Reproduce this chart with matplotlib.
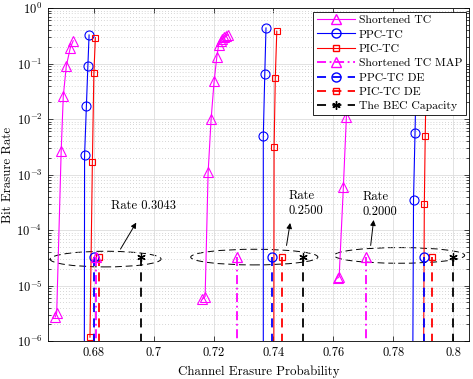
import numpy as np
import matplotlib
matplotlib.use("Agg")
import matplotlib.pyplot as plt
from matplotlib.patches import Ellipse
from matplotlib.lines import Line2D
import matplotlib.transforms as mtransforms

plt.rcParams['font.family'] = 'serif'
plt.rcParams['font.serif'] = ['cmr10']
plt.rcParams['mathtext.fontset'] = 'cm'
plt.rcParams['axes.formatter.use_mathtext'] = True
plt.rcParams['font.size'] = 9

# simulated curves (x = channel erasure prob, y = bit erasure rate)
stc1_x = [0.6672, 0.6677, 0.6692, 0.6699, 0.6709, 0.6722, 0.6732]
stc1_y = [2.7e-6, 3.2e-6, 2.7e-3, 0.026, 0.09, 0.188, 0.257]
stc2_x = [0.7163, 0.7172, 0.7182, 0.7192, 0.7202, 0.7211, 0.7217, 0.7224, 0.7229, 0.7235, 0.7242, 0.7249]
stc2_y = [5.7e-6, 6.3e-6, 1.1e-3, 0.01, 0.048, 0.131, 0.215, 0.251, 0.276, 0.297, 0.313, 0.33]
stc3_x = [0.7614, 0.7619, 0.7633, 0.7643, 0.7652, 0.7660]
stc3_y = [1.36e-5, 1.44e-5, 5.9e-4, 0.0107, 0.08, 0.25]

ppc1_x = [0.6769, 0.6770, 0.6776, 0.6781, 0.6785]
ppc1_y = [1e-7, 2.2e-3, 0.017, 0.091, 0.326]
ppc2_x = [0.7366, 0.7366, 0.7371, 0.7375]
ppc2_y = [1e-7, 4.9e-3, 0.066, 0.436]
ppc3_x = [0.7864, 0.7867, 0.7872, 0.7876, 0.7880]
ppc3_y = [1e-7, 3.5e-4, 5.7e-3, 0.06, 0.4]

pic1_x = [0.6788, 0.6796, 0.6801, 0.6806]
pic1_y = [1.17e-6, 1.66e-3, 0.067, 0.292]
pic2_x = [0.7401, 0.7402, 0.7406, 0.7411]
pic2_y = [1e-7, 3.1e-3, 0.055, 0.38]
pic3_x = [0.7900, 0.7903, 0.7906, 0.7910]
pic3_y = [1e-7, 2.9e-4, 5e-3, 0.1]

# thresholds
map_x = [0.6807, 0.7277, 0.7707]
ppc_de_x = [0.6802, 0.7395, 0.7901]
pic_de_x = [0.6818, 0.7427, 0.7928]
rates = [0.3043, 0.2500, 0.2000]
cap_x = [1 - r for r in rates]
thr_y = 3.2e-5

MAG = '#FF00FF'
BLU = '#0000FF'
RED = '#FF0000'

fig = plt.figure(figsize=(4.73, 3.79), dpi=100)
ax = fig.add_axes([48 / 473, 1 - 341 / 379, 421 / 473, 333 / 379])

for xs, ys in [(stc1_x, stc1_y), (stc2_x, stc2_y), (stc3_x, stc3_y)]:
    ax.plot(xs, ys, '-', color=MAG, lw=0.8, marker='^', ms=7, mfc='none', mew=0.8)
for xs, ys in [(ppc1_x, ppc1_y), (ppc2_x, ppc2_y), (ppc3_x, ppc3_y)]:
    ax.plot(xs, ys, '-', color=BLU, lw=0.8, marker='o', ms=6.5, mfc='none', mew=0.8)
for xs, ys in [(pic1_x, pic1_y), (pic2_x, pic2_y), (pic3_x, pic3_y)]:
    ax.plot(xs, ys, '-', color=RED, lw=0.8, marker='s', ms=5, mfc='none', mew=0.8)

dash = (0, (5, 3.5))
dashdot = (0, (5, 2, 1, 2))
for xv in cap_x:
    ax.plot([xv, xv], [thr_y, 1e-7], color='k', ls=dash, lw=1.3, marker=(6, 2, 0), ms=6, mew=0.9, markevery=[0])
for xv in pic_de_x:
    ax.plot([xv, xv], [thr_y, 1e-7], color=RED, ls=dash, lw=1.3, marker='s', ms=5, mfc='none', mew=0.9, markevery=[0])
for xv in ppc_de_x:
    ax.plot([xv, xv], [thr_y, 1e-7], color=BLU, ls=dash, lw=1.3, marker='o', ms=6.5, mfc='none', mew=0.9, markevery=[0])
for xv in map_x:
    ax.plot([xv, xv], [thr_y, 1e-7], color=MAG, ls=dashdot, lw=1.3, marker='^', ms=7, mfc='none', mew=0.9, markevery=[0])

ax.set_yscale('log')
ax.set_xlim(0.6648, 0.8052)
ax.set_ylim(1e-6, 1)
ax.set_xticks([0.68, 0.70, 0.72, 0.74, 0.76, 0.78, 0.80])
ax.set_xticklabels(['0.68', '0.7', '0.72', '0.74', '0.76', '0.78', '0.8'])
ax.set_xlabel('Channel Erasure Probability', labelpad=5, fontsize=9.25)
ax.set_ylabel('Bit Erasure Rate', labelpad=2, fontsize=9.25)
ax.tick_params(which='both', direction='in', top=True, right=True, width=0.5)
ax.tick_params(which='major', length=3.5, pad=4, labelsize=9)
ax.tick_params(which='minor', length=2)
ax.grid(True, which='major', color='#dddddd', lw=0.6)
ax.yaxis.grid(True, which='minor', color='#c8c8c8', ls=(0, (1, 2.5)), lw=0.6)
for s in ax.spines.values():
    s.set_linewidth(0.6)

# ellipses around threshold groups
trans = mtransforms.blended_transform_factory(ax.transData, ax.transAxes)
ell_cx = [0.6840, 0.7336, 0.7820]
ell_w = [0.0370, 0.0424, 0.0435]
ell_cy = [0.246, 0.252, 0.257]
for cx, w, cy in zip(ell_cx, ell_w, ell_cy):
    ax.add_patch(Ellipse((cx, cy), w, 0.047, transform=trans, fill=False,
                         ec='k', lw=0.7, ls=(0, (7, 4)), angle=-1))

# rate labels and arrows
ax.text(0.6858, 2.75e-4, 'Rate 0.3043', ha='left', va='center', fontsize=9)
ax.text(0.7449, 3.0e-4, 'Rate\n0.2500', ha='left', va='center', linespacing=1.35, fontsize=9)
ax.text(0.7696, 2.9e-4, 'Rate\n0.2000', ha='left', va='center', linespacing=1.35, fontsize=9)
arrows = [((0.6885, 4.1e-5), (0.6947, 1.5e-4)),
          ((0.7442, 4.7e-5), (0.7457, 1.5e-4)),
          ((0.7723, 4.7e-5), (0.7735, 1.7e-4))]
for tail, head in arrows:
    ax.annotate('', xy=head, xytext=tail,
                arrowprops=dict(arrowstyle='-|>', color='k', lw=0.7, mutation_scale=8))

handles = [
    Line2D([], [], color=MAG, lw=0.8, marker='^', ms=7, mfc='none'),
    Line2D([], [], color=BLU, lw=0.8, marker='o', ms=6.5, mfc='none'),
    Line2D([], [], color=RED, lw=0.8, marker='s', ms=5, mfc='none'),
    Line2D([], [], color=MAG, lw=1.3, ls=dashdot, marker='^', ms=7, mfc='none'),
    Line2D([], [], color=BLU, lw=1.3, ls=dash, marker='o', ms=6.5, mfc='none'),
    Line2D([], [], color=RED, lw=1.3, ls=dash, marker='s', ms=5, mfc='none'),
    Line2D([], [], color='k', lw=1.3, ls=dash, marker=(6, 2, 0), ms=6),
]
labels = ['Shortened TC', 'PPC-TC', 'PIC-TC', 'Shortened TC MAP',
          'PPC-TC DE', 'PIC-TC DE', 'The BEC Capacity']
leg = ax.legend(handles, labels, loc='upper right', fancybox=False, framealpha=1,
                edgecolor='k', borderpad=0.3, labelspacing=0.36, handlelength=3.3,
                handletextpad=0.3, borderaxespad=0.3, fontsize=8.4)
leg.get_frame().set_linewidth(0.6)

fig.savefig('out.png', dpi=100)
